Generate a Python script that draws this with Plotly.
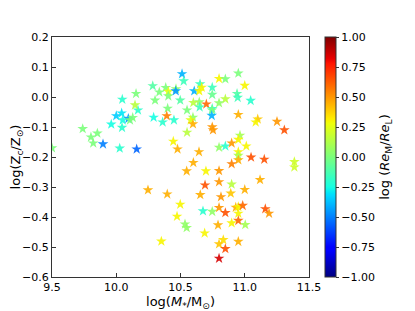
import numpy as np
import plotly.graph_objects as go

# log(M*/Msun)
mass = [9.50, 9.739, 9.803, 9.853, 9.821, 9.897, 10.027, 10.159, 9.961, 10.00,
        10.042, 10.05, 10.045, 10.094, 10.107, 10.128, 10.169, 10.146, 10.154, 10.047,
        10.284, 10.335, 10.302, 10.385, 10.405, 10.405, 10.465, 10.463, 10.40, 10.291,
        10.361, 10.393, 10.449, 10.444, 10.477, 10.512, 10.525, 10.652, 10.607, 10.646,
        10.665, 10.747, 10.80, 10.849, 10.95, 11.00, 10.747, 10.94, 10.945, 11.046,
        10.849, 10.80, 10.701, 10.646, 10.60, 10.649, 10.498, 10.551, 10.747, 10.745,
        10.743, 10.597, 10.579, 10.597, 10.95, 11.101, 11.085, 11.251, 11.308, 10.747,
        10.753, 10.551, 10.644, 10.80, 10.849, 10.898, 10.963, 10.95, 11.012, 10.95,
        10.95, 10.95, 11.049, 11.152, 10.898, 10.60, 11.386, 11.386, 10.548, 10.698,
        10.80, 10.80, 10.898, 11.119, 10.691, 11.00, 10.654, 10.815, 10.891, 10.498,
        10.675, 10.747, 10.80, 10.849, 10.93, 10.95, 10.984, 10.95, 11.16, 11.189,
        10.473, 10.535, 10.548, 10.792, 10.898, 10.95, 11.004, 10.688, 10.833, 10.80,
        10.95, 10.849, 10.80, 10.247, 10.397, 10.351]

# log(Zc/Zsun)
metal = [-0.170, -0.106, -0.134, -0.121, -0.154, -0.157, -0.171, -0.174, -0.091, -0.063,
         -0.054, -0.077, -0.102, -0.072, -0.077, -0.069, -0.044, -0.027, 0.011, -0.008,
         0.037, 0.016, -0.011, 0.031, 0.018, 0.003, 0.027, 0.020, -0.038, -0.068,
         -0.084, -0.063, -0.077, -0.148, -0.174, 0.077, 0.053, 0.043, 0.020, 0.020,
         0.032, 0.032, 0.061, 0.060, 0.079, 0.038, 0.008, 0.011, -0.002, -0.012,
         -0.007, -0.020, -0.024, -0.017, -0.019, -0.034, -0.011, -0.044, -0.039, -0.044,
         -0.062, -0.068, -0.077, -0.090, -0.059, -0.074, -0.084, -0.082, -0.110, -0.100,
         -0.110, -0.118, -0.183, -0.168, -0.164, -0.154, -0.128, -0.142, -0.164, -0.183,
         -0.195, -0.210, -0.201, -0.208, -0.223, -0.219, -0.216, -0.234, -0.247, -0.247,
         -0.246, -0.283, -0.291, -0.276, -0.294, -0.309, -0.326, -0.333, -0.321, -0.358,
         -0.380, -0.382, -0.369, -0.386, -0.368, -0.366, -0.362, -0.388, -0.373, -0.388,
         -0.398, -0.424, -0.436, -0.427, -0.420, -0.412, -0.426, -0.454, -0.476, -0.490,
         -0.482, -0.506, -0.538, -0.310, -0.324, -0.481]

# log(Re_M/Re_L)
ratio = [0.00, 0.00, 0.00, 0.00, 0.00, -0.50, -0.20, -0.55, -0.25, -0.35,
         -0.30, -0.25, -0.20, -0.45, 0.00, 0.00, -0.20, 0.15, 0.00, -0.20,
         -0.10, 0.00, 0.00, 0.00, 0.25, 0.00, 0.05, -0.45, 0.00, -0.25,
         -0.20, 0.55, -0.20, 0.30, 0.45, -0.40, -0.15, -0.15, -0.40, 0.30,
         0.30, -0.15, 0.30, 0.00, 0.00, 0.30, -0.05, -0.10, -0.15, -0.20,
         0.15, 0.05, 0.60, 0.05, 0.15, -0.15, -0.10, 0.00, -0.15, 0.00,
         -0.40, 0.05, 0.25, 0.45, 0.45, 0.40, 0.30, 0.50, 0.65, 0.50,
         0.50, 0.15, 0.45, 0.05, -0.20, 0.50, 0.10, 0.30, 0.30, 0.30,
         0.10, 0.45, 0.65, 0.65, 0.55, 0.45, 0.20, 0.20, 0.45, 0.30,
         0.50, 0.50, 0.15, 0.45, 0.65, 0.45, 0.45, 0.50, 0.40, 0.30,
         -0.20, 0.05, 0.50, 0.65, 0.45, 0.30, 0.60, 0.30, 0.65, 0.50,
         0.30, 0.05, 0.05, 0.45, 0.30, 0.60, 0.10, 0.30, 0.35, 0.40,
         0.45, 0.65, 0.85, 0.45, 0.45, 0.30]

x_ticks = [9.5, 10.0, 10.5, 11.0, 11.5]
y_ticks = [0.2, 0.1, 0.0, -0.1, -0.2, -0.3, -0.4, -0.5, -0.6]
cb_ticks = [1.0, 0.75, 0.5, 0.25, 0.0, -0.25, -0.5, -0.75, -1.0]

# matplotlib 'jet' colormap as a plotly colorscale
_jet = {
    'r': [(0, 0), (0.35, 0), (0.66, 1), (0.89, 1), (1, 0.5)],
    'g': [(0, 0), (0.125, 0), (0.375, 1), (0.64, 1), (0.91, 0), (1, 0)],
    'b': [(0, 0.5), (0.11, 1), (0.34, 1), (0.65, 0), (1, 0)],
}
_stops = sorted(set([p for ch in _jet.values() for p, _ in ch] + list(np.linspace(0, 1, 21))))
jet_scale = []
for s in _stops:
    rgb = [np.interp(s, [p for p, _ in _jet[c]], [v for _, v in _jet[c]]) for c in 'rgb']
    jet_scale.append([float(s), 'rgb(%d,%d,%d)' % tuple(int(round(255 * v)) for v in rgb)])

font = "DejaVu Sans, sans-serif"
axcol = "#333333"

fig = go.Figure(go.Scatter(
    x=mass, y=metal, mode="markers",
    marker=dict(symbol="star", size=8, color=ratio, colorscale=jet_scale,
                cmin=-1, cmax=1, opacity=0.9, line=dict(width=0),
                colorbar=dict(
                    x=(325 - 52) / 257, xanchor="left", xref="paper",
                    y=0.5, yanchor="middle", len=1, lenmode="fraction",
                    thickness=11, outlinecolor=axcol, outlinewidth=1,
                    xpad=0, ypad=0,
                    ticks="outside", ticklen=3, tickcolor=axcol,
                    tickvals=cb_ticks, tickformat=".2f",
                    tickfont=dict(family=font, size=11, color="black"),
                    title=dict(text="log (<i>Re</i><sub>M</sub>/<i>Re</i><sub>L</sub>)",
                               side="right", font=dict(family=font, size=13, color="black")),
                )),
    showlegend=False, cliponaxis=True,
))

# the page body adds an 8 px offset, so the figure is 8 px smaller and margins shifted
fig.update_layout(
    width=407, height=303,
    margin=dict(l=44, r=106, t=29, b=34, autoexpand=False),
    paper_bgcolor="white", plot_bgcolor="white",
    font=dict(family=font, size=11, color="black"),
    xaxis=dict(range=[9.5, 11.5], tickvals=x_ticks, tickformat=".1f", automargin=False,
               showgrid=False, zeroline=False, showline=True, mirror=True,
               linecolor=axcol, linewidth=1.3, ticks="inside", ticklen=4, tickcolor=axcol,
               title=dict(text="log(<i>M</i><sub>*</sub>/M<sub>⊙</sub>)",
                          font=dict(family=font, size=13), standoff=0)),
    yaxis=dict(range=[-0.6, 0.2], tickvals=y_ticks, tickformat=".1f", automargin=False,
               showgrid=False, zeroline=False, showline=True, mirror=True,
               linecolor=axcol, linewidth=1.3, ticks="inside", ticklen=4, tickcolor=axcol,
               title=dict(text="log(Z<sub>c</sub>/Z<sub>⊙</sub>)",
                          font=dict(family=font, size=13), standoff=4)),
)

fig.write_html("out.html")
